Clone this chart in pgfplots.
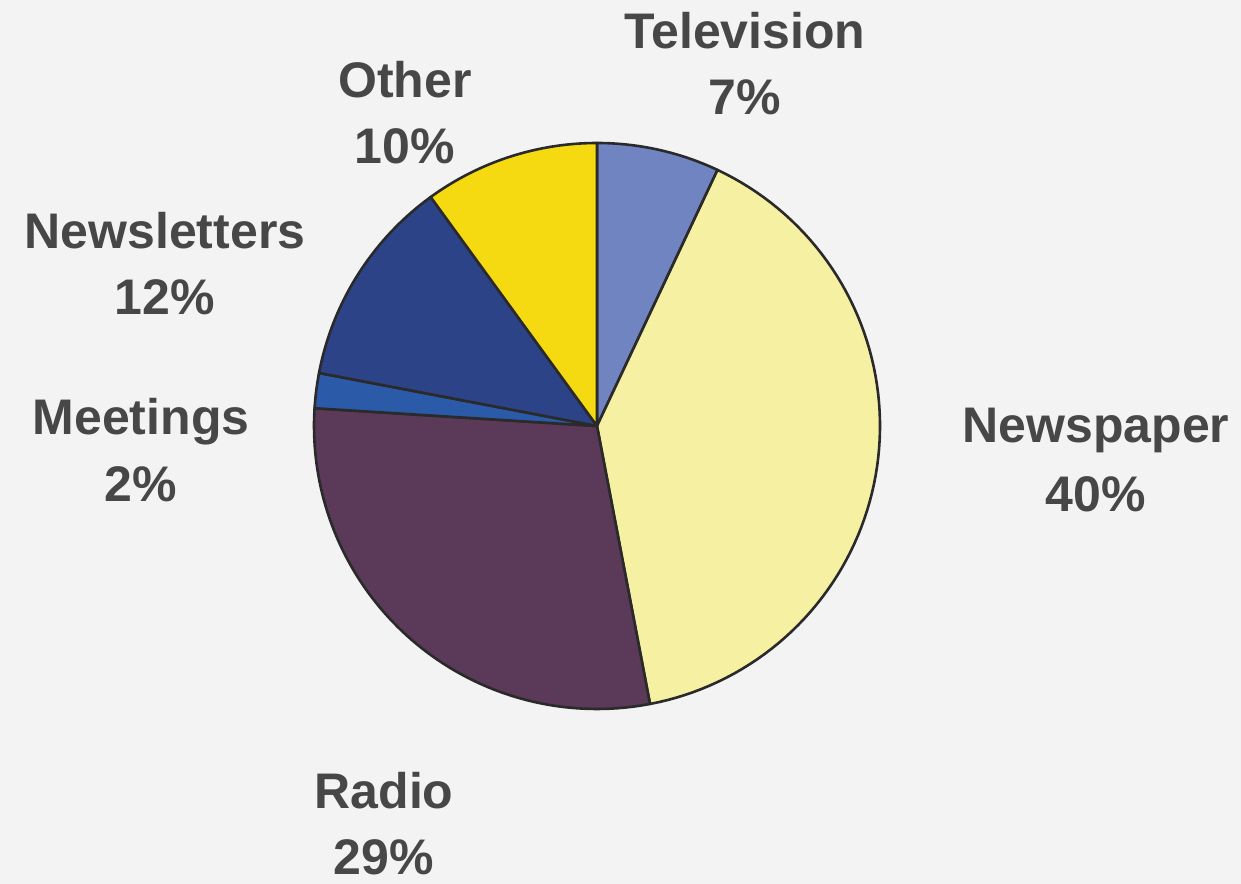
\documentclass[border=0pt]{standalone}
\usepackage{pgfplots}
\usepackage{pgfplotstable}
\pgfplotsset{compat=1.18}
\usepackage{fontspec}
\setmainfont{Liberation Sans}

\definecolor{bg}{HTML}{F3F3F3}
\definecolor{txt}{HTML}{474747}
\definecolor{cTV}{HTML}{7084C2}
\definecolor{cNews}{HTML}{F6F0A2}
\definecolor{cRadio}{HTML}{5A3A58}
\definecolor{cMeet}{HTML}{2B5AA8}
\definecolor{cNL}{HTML}{2D4388}
\definecolor{cOther}{HTML}{F5DA12}
\definecolor{edge}{HTML}{2A2A2A}

% share of each category, in percent, clockwise from the top
\pgfplotstableread{
label       pct
Television  7
Newspaper   40
Radio       29
Meetings    2
Newsletters 12
Other       10
}\piedata

\def\cx{597}
\def\cy{458}
\def\rad{283}

% cumulative angles computed from the percentages
\pgfplotstablegetelem{0}{pct}\of\piedata \let\pA\pgfplotsretval
\pgfplotstablegetelem{1}{pct}\of\piedata \let\pB\pgfplotsretval
\pgfplotstablegetelem{2}{pct}\of\piedata \let\pC\pgfplotsretval
\pgfplotstablegetelem{3}{pct}\of\piedata \let\pD\pgfplotsretval
\pgfplotstablegetelem{4}{pct}\of\piedata \let\pE\pgfplotsretval
\pgfplotstablegetelem{5}{pct}\of\piedata \let\pF\pgfplotsretval
\pgfmathsetmacro{\aA}{90}
\pgfmathsetmacro{\aB}{\aA-3.6*\pA}
\pgfmathsetmacro{\aC}{\aB-3.6*\pB}
\pgfmathsetmacro{\aD}{\aC-3.6*\pC}
\pgfmathsetmacro{\aE}{\aD-3.6*\pD}
\pgfmathsetmacro{\aF}{\aE-3.6*\pE}
\pgfmathsetmacro{\aG}{\aF-3.6*\pF}

\newcommand{\wedgeplot}[3]{%
  \addplot[fill=#3, draw=edge, line width=2.6bp, line join=round, domain=#2:#1, samples=80]
    ({\cx+\rad*cos(x)}, {\cy+\rad*sin(x)}) -- (axis cs:\cx,\cy) -- cycle;
}

\begin{document}
\begin{tikzpicture}[lbl/.style={font=\fontsize{50bp}{60bp}\selectfont\bfseries, text=txt, anchor=base, inner sep=0pt}]
\begin{axis}[
  hide axis, scale only axis,
  x=1bp, y=1bp,
  xmin=0, xmax=1241, ymin=0, ymax=884,
  at={(0,0)}, anchor=south west,
  clip=false,
]
\fill[bg] (axis cs:0,0) rectangle (axis cs:1241,884);

\wedgeplot{\aA}{\aB}{cTV}
\wedgeplot{\aB}{\aC}{cNews}
\wedgeplot{\aC}{\aD}{cRadio}
\wedgeplot{\aD}{\aE}{cMeet}
\wedgeplot{\aE}{\aF}{cNL}
\wedgeplot{\aF}{\aG}{cOther}

\node[lbl] at (axis cs:745,835) {Television};
\node[lbl] at (axis cs:745,769) {7\%};
\node[lbl] at (axis cs:405,786) {Other};
\node[lbl] at (axis cs:405,720) {10\%};
\node[lbl] at (axis cs:165,635) {Newsletters};
\node[lbl] at (axis cs:165,569) {12\%};
\node[lbl] at (axis cs:141,449) {Meetings};
\node[lbl] at (axis cs:141,382) {2\%};
\node[lbl] at (axis cs:1096,441) {Newspaper};
\node[lbl] at (axis cs:1096,372) {40\%};
\node[lbl] at (axis cs:384,75) {Radio};
\node[lbl] at (axis cs:384,9) {29\%};
\end{axis}
\end{tikzpicture}
\end{document}
